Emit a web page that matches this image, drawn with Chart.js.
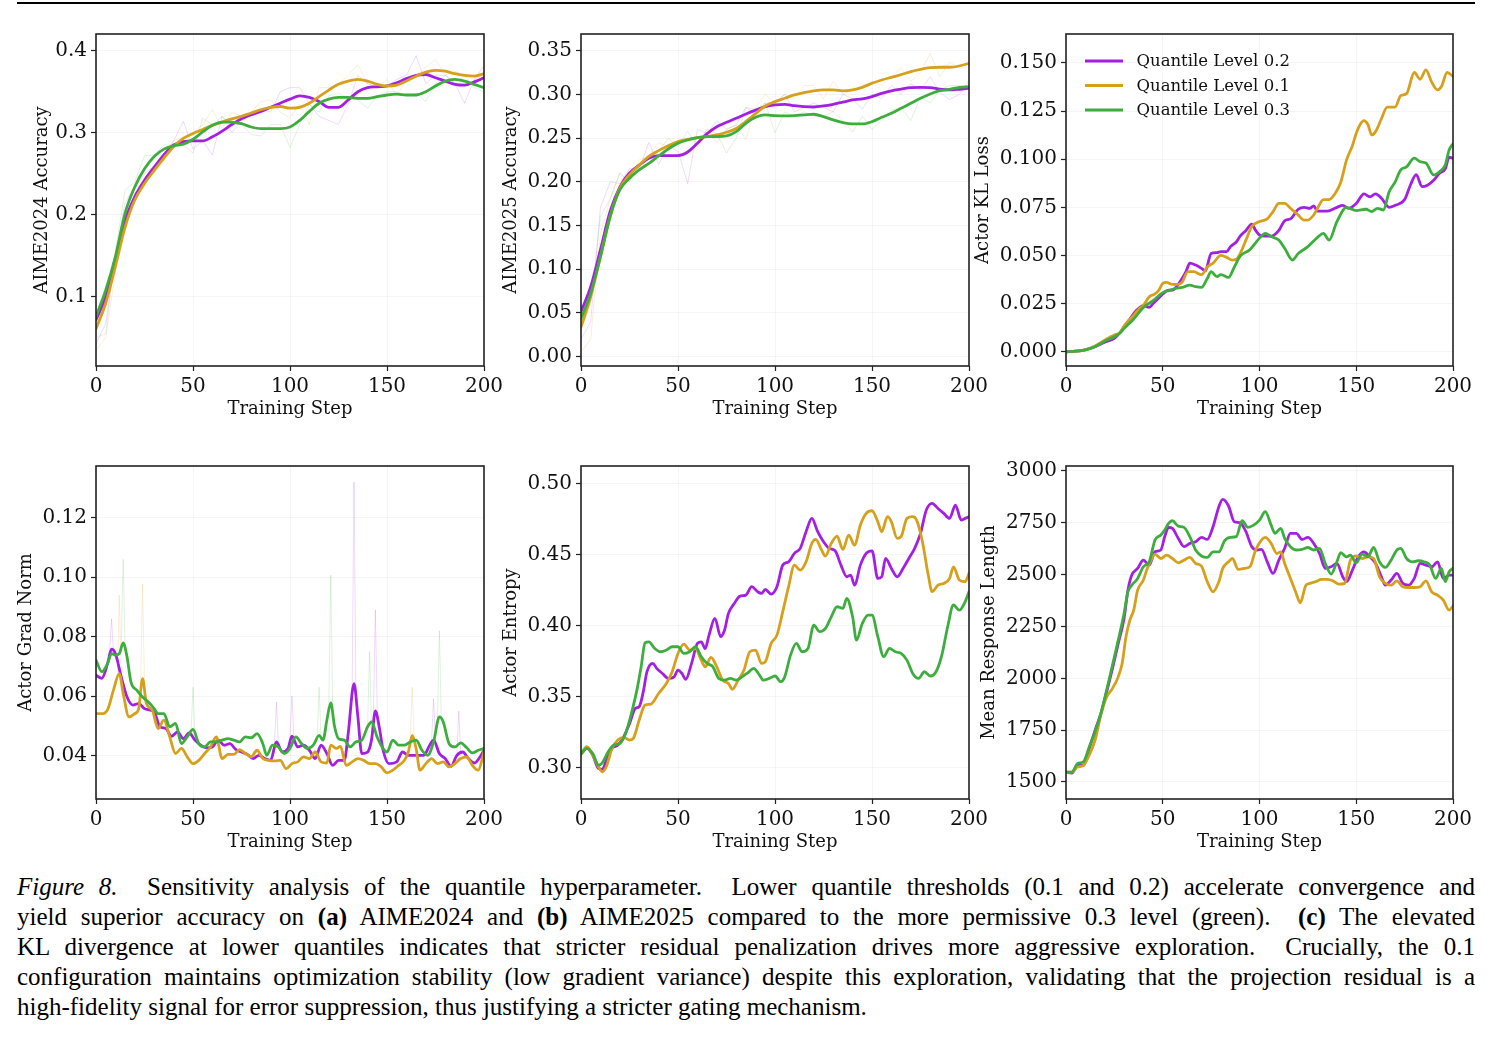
<!DOCTYPE html>
<html>
<head>
<meta charset="utf-8">
<script src="https://cdn.jsdelivr.net/npm/chart.js@4"></script>
<style>
  body { margin: 0; background: #fff; width: 1493px; height: 1037px; position: relative; overflow: hidden; }
  canvas { position: absolute; }
  #rule { position: absolute; left: 17px; top: 2px; width: 1458px; height: 2px; background: #000; }
  #caption { position: absolute; left: 17px; top: 872px; width: 1458px; font-family: "Liberation Serif", serif; font-size: 25px; line-height: 30px; color: #000; }
  #caption div { text-align: justify; text-align-last: justify; }
  #caption div.last { text-align-last: left; }
</style>
</head>
<body>
<div id="rule"></div>
<canvas id="c1" width="514" height="412" style="left:0px;top:18px"></canvas>
<canvas id="c2" width="514" height="412" style="left:485px;top:18px"></canvas>
<canvas id="c3" width="513" height="412" style="left:970px;top:18px"></canvas>
<canvas id="c4" width="514" height="413" style="left:0px;top:450px"></canvas>
<canvas id="c5" width="514" height="413" style="left:485px;top:450px"></canvas>
<canvas id="c6" width="513" height="413" style="left:970px;top:450px"></canvas>
<div id="caption">
  <div><i>Figure 8.</i>&nbsp; Sensitivity analysis of the quantile hyperparameter.&nbsp; Lower quantile thresholds (0.1 and 0.2) accelerate convergence and</div>
  <div>yield superior accuracy on <b>(a)</b> AIME2024 and <b>(b)</b> AIME2025 compared to the more permissive 0.3 level (green).&nbsp; <b>(c)</b> The elevated</div>
  <div>KL divergence at lower quantiles indicates that stricter residual penalization drives more aggressive exploration.&nbsp; Crucially, the 0.1</div>
  <div>configuration maintains optimization stability (low gradient variance) despite this exploration, validating that the projection residual is a</div>
  <div class="last">high-fidelity signal for error suppression, thus justifying a stricter gating mechanism.</div>
</div>
<script>
// series: Quantile Level 0.2 (purple), 0.1 (gold), 0.3 (green)
const seriesLabels = ['Quantile Level 0.2', 'Quantile Level 0.1', 'Quantile Level 0.3'];
const seriesColors = ['#a31fe3', '#d6a01c', '#3dae3d'];

const xTicks = [0, 50, 100, 150, 200];
const aime24Ticks = [0.1, 0.2, 0.3, 0.4];
const aime25Ticks = [0, 0.05, 0.10, 0.15, 0.20, 0.25, 0.30, 0.35];
const klTicks = [0, 0.025, 0.05, 0.075, 0.1, 0.125, 0.15];
const gradTicks = [0.04, 0.06, 0.08, 0.10, 0.12];
const entTicks = [0.30, 0.35, 0.40, 0.45, 0.50];
const lenTicks = [1500, 1750, 2000, 2250, 2500, 2750, 3000];

// (a) AIME2024 / (b) AIME2025, evaluated every 5 steps
const evalSteps = [0,5,10,15,20,25,30,35,40,45,50,55,60,65,70,75,80,85,90,95,100,105,110,115,120,125,130,135,140,145,150,155,160,165,170,175,180,185,190,195,200];
const aime24_q02 = [0.072,0.100,0.145,0.193,0.222,0.242,0.258,0.273,0.285,0.289,0.290,0.290,0.295,0.302,0.310,0.317,0.322,0.326,0.331,0.336,0.341,0.345,0.343,0.338,0.331,0.331,0.340,0.350,0.355,0.356,0.357,0.361,0.366,0.370,0.371,0.367,0.363,0.359,0.358,0.362,0.367];
const aime24_q01 = [0.061,0.092,0.137,0.185,0.218,0.238,0.254,0.269,0.283,0.293,0.299,0.304,0.309,0.313,0.317,0.320,0.324,0.328,0.331,0.332,0.330,0.331,0.336,0.344,0.352,0.359,0.363,0.365,0.363,0.359,0.357,0.358,0.363,0.369,0.374,0.376,0.375,0.372,0.370,0.369,0.372];
const aime24_q03 = [0.076,0.108,0.149,0.202,0.234,0.256,0.271,0.280,0.284,0.286,0.292,0.301,0.309,0.313,0.313,0.311,0.307,0.305,0.305,0.305,0.307,0.315,0.326,0.336,0.341,0.343,0.343,0.342,0.342,0.344,0.346,0.347,0.346,0.346,0.350,0.357,0.363,0.365,0.363,0.359,0.355];
const aime24Raw_q02 = [0.043,0.067,0.150,0.215,0.235,0.250,0.260,0.275,0.290,0.314,0.280,0.290,0.273,0.320,0.300,0.315,0.322,0.330,0.325,0.350,0.355,0.355,0.335,0.320,0.315,0.310,0.335,0.370,0.360,0.355,0.357,0.365,0.370,0.394,0.360,0.370,0.370,0.360,0.336,0.365,0.382];
const aime24Raw_q01 = [0.035,0.050,0.130,0.190,0.225,0.240,0.250,0.265,0.290,0.295,0.300,0.310,0.328,0.305,0.325,0.320,0.325,0.338,0.340,0.325,0.318,0.335,0.310,0.355,0.355,0.360,0.370,0.383,0.360,0.355,0.365,0.344,0.365,0.370,0.380,0.389,0.370,0.375,0.370,0.365,0.370];
const aime24Raw_q03 = [0.050,0.055,0.155,0.230,0.240,0.272,0.273,0.285,0.285,0.285,0.275,0.318,0.310,0.320,0.310,0.310,0.298,0.296,0.310,0.310,0.282,0.310,0.335,0.325,0.345,0.348,0.342,0.340,0.330,0.345,0.350,0.350,0.345,0.348,0.338,0.360,0.370,0.360,0.370,0.355,0.350];

const aime25_q02 = [0.0515,0.080,0.122,0.166,0.194,0.210,0.219,0.227,0.230,0.230,0.230,0.234,0.244,0.255,0.263,0.268,0.2726,0.2775,0.282,0.286,0.288,0.2886,0.287,0.286,0.2855,0.2867,0.2886,0.291,0.2936,0.2947,0.2974,0.301,0.304,0.306,0.3077,0.308,0.3077,0.3058,0.305,0.3058,0.307];
const aime25_q01 = [0.034,0.0686,0.114,0.160,0.1925,0.208,0.219,0.229,0.2356,0.2413,0.246,0.2486,0.2505,0.2516,0.2535,0.2566,0.261,0.269,0.278,0.2867,0.2917,0.2955,0.2993,0.302,0.304,0.305,0.305,0.304,0.305,0.308,0.3126,0.3164,0.3195,0.3225,0.326,0.3286,0.3305,0.331,0.331,0.3324,0.3355];
const aime25_q03 = [0.0438,0.0724,0.114,0.160,0.1906,0.204,0.2135,0.221,0.2295,0.2375,0.244,0.2478,0.2505,0.2516,0.2516,0.2524,0.2573,0.2669,0.2737,0.2764,0.2756,0.2753,0.2756,0.2764,0.2772,0.2745,0.2707,0.2676,0.2661,0.2661,0.2688,0.2737,0.2783,0.284,0.2897,0.2955,0.3004,0.3042,0.3058,0.308,0.3088];
const aime25Raw_q02 = [0.020,0.040,0.170,0.200,0.198,0.215,0.215,0.245,0.220,0.240,0.235,0.198,0.260,0.255,0.270,0.260,0.265,0.285,0.278,0.290,0.290,0.300,0.280,0.285,0.290,0.285,0.280,0.300,0.295,0.283,0.300,0.295,0.310,0.300,0.312,0.305,0.320,0.302,0.294,0.300,0.316];
const aime25Raw_q01 = [0.005,0.020,0.140,0.180,0.210,0.200,0.225,0.230,0.245,0.240,0.245,0.250,0.245,0.260,0.245,0.260,0.265,0.248,0.285,0.300,0.290,0.300,0.295,0.310,0.310,0.295,0.315,0.300,0.305,0.310,0.315,0.310,0.320,0.330,0.315,0.325,0.347,0.320,0.337,0.330,0.330];
const aime25Raw_q03 = [0.030,0.060,0.160,0.180,0.210,0.200,0.220,0.220,0.235,0.250,0.240,0.258,0.240,0.260,0.255,0.233,0.250,0.285,0.283,0.290,0.256,0.280,0.275,0.280,0.275,0.275,0.280,0.270,0.257,0.275,0.260,0.270,0.282,0.285,0.270,0.297,0.290,0.305,0.310,0.310,0.305];

// (c) Actor KL loss (smoothed)
const klSteps_q02 = [0,5,10,15,20,25,28,30,33,36,40,43,45,48,50,53,55,58,60,62,64,67,70,72,75,78,80,83,85,88,90,93,96,98,100,103,106,110,113,116,120,123,126,128,130,135,140,143,146,150,154,157,160,163,167,170,175,178,181,184,187,190,193,196,198,200];
const kl_q02 = [0,0.0003,0.001,0.0026,0.005,0.007,0.010,0.013,0.017,0.021,0.024,0.023,0.025,0.028,0.030,0.032,0.032,0.035,0.038,0.0416,0.046,0.045,0.0433,0.042,0.051,0.0515,0.052,0.052,0.0546,0.057,0.060,0.063,0.0663,0.063,0.0606,0.060,0.060,0.063,0.068,0.069,0.074,0.075,0.0745,0.0757,0.073,0.073,0.075,0.076,0.0745,0.077,0.082,0.0805,0.082,0.0797,0.075,0.076,0.079,0.0866,0.092,0.0857,0.0866,0.089,0.0927,0.095,0.101,0.1005];
const klSteps_q01 = [0,5,10,15,20,23,25,28,30,35,38,40,43,46,48,50,52,55,58,60,63,66,70,73,76,80,83,86,88,90,93,96,100,104,107,110,113,116,120,123,125,128,130,133,136,139,142,145,148,150,152,154,156,158,160,163,166,170,173,176,180,183,186,189,192,194,197,200];
const kl_q01 = [0,0.0003,0.001,0.003,0.006,0.0078,0.0087,0.010,0.0133,0.019,0.0225,0.024,0.0286,0.030,0.032,0.0355,0.036,0.035,0.035,0.036,0.0416,0.0416,0.040,0.044,0.046,0.050,0.049,0.0476,0.048,0.051,0.058,0.065,0.0676,0.069,0.0728,0.077,0.077,0.0745,0.071,0.0684,0.0684,0.071,0.0745,0.079,0.079,0.082,0.088,0.0996,0.107,0.1135,0.118,0.120,0.118,0.1126,0.1143,0.121,0.127,0.127,0.133,0.134,0.145,0.1415,0.1464,0.140,0.136,0.1377,0.145,0.143];
const klSteps_q03 = [0,5,10,15,20,25,28,30,35,40,45,50,53,57,60,64,67,70,73,75,78,80,84,87,90,95,100,103,106,110,113,117,120,125,130,133,136,140,145,150,155,158,161,164,167,170,173,176,180,183,186,190,193,196,198,200];
const kl_q03 = [0,0.0003,0.001,0.0026,0.0055,0.0078,0.0099,0.012,0.017,0.023,0.0265,0.0307,0.0317,0.033,0.0334,0.0346,0.0338,0.0334,0.038,0.0416,0.039,0.040,0.0386,0.044,0.0497,0.053,0.059,0.0615,0.0598,0.058,0.0537,0.0476,0.051,0.0546,0.0594,0.0615,0.058,0.0676,0.075,0.0733,0.074,0.0728,0.0745,0.0736,0.083,0.088,0.0944,0.096,0.1005,0.0987,0.098,0.0918,0.0935,0.097,0.1048,0.108];

// Actor grad norm (smoothed) and the visible raw spikes
const gradSteps_q02 = [0,3,6,8,10,13,16,19,22,25,28,30,33,36,39,42,45,48,51,54,57,60,63,66,69,72,75,78,81,84,87,90,93,96,99,101,104,107,110,113,116,119,122,125,128,130,133,135,137,140,142,144,146,148,151,155,158,161,165,169,172,174,177,180,183,186,189,192,195,198,200];
const grad_q02 = [0.067,0.066,0.071,0.0758,0.0743,0.0665,0.0597,0.057,0.0575,0.0558,0.0553,0.0547,0.0497,0.0491,0.0465,0.048,0.0457,0.0476,0.0452,0.0435,0.0426,0.0429,0.0452,0.0435,0.044,0.0421,0.0412,0.0404,0.039,0.0401,0.039,0.0384,0.0446,0.0412,0.0424,0.0465,0.0429,0.0435,0.0418,0.039,0.0435,0.0407,0.0367,0.0384,0.0384,0.0474,0.0642,0.053,0.0407,0.0412,0.0452,0.055,0.0496,0.0418,0.0373,0.0379,0.0412,0.0401,0.0401,0.0401,0.0435,0.0452,0.0407,0.039,0.0364,0.0401,0.0412,0.039,0.0375,0.0396,0.0418];
const gradSteps_q01 = [0,3,6,9,12,14,17,20,22,24,26,29,32,35,38,41,44,47,50,53,56,59,62,65,68,71,74,77,80,83,86,89,92,95,98,101,104,107,110,113,116,119,121,124,126,129,132,135,138,141,144,147,150,153,156,159,161,163,165,167,170,173,176,179,182,185,188,191,194,197,200];
const grad_q01 = [0.0541,0.0541,0.0555,0.062,0.0676,0.0609,0.053,0.0541,0.0558,0.0659,0.0575,0.0553,0.0491,0.0519,0.0463,0.0407,0.0424,0.0396,0.0373,0.0384,0.0407,0.0429,0.0463,0.039,0.0404,0.0404,0.042,0.0407,0.0396,0.0418,0.039,0.0384,0.0382,0.0384,0.0356,0.0373,0.0379,0.0396,0.039,0.0412,0.0379,0.0375,0.0435,0.0424,0.0431,0.0367,0.0379,0.039,0.0384,0.0373,0.0373,0.0362,0.0342,0.0351,0.0367,0.0384,0.0412,0.0468,0.0424,0.0351,0.0373,0.039,0.0373,0.0379,0.0362,0.0373,0.039,0.0396,0.0367,0.0351,0.0412];
const gradSteps_q03 = [0,3,6,8,10,12,14,16,18,21,24,27,30,32,35,38,41,44,47,50,53,56,59,62,65,68,71,74,77,80,83,86,88,91,94,97,100,103,106,109,112,115,117,119,121,123,125,128,131,134,137,140,142,145,148,150,153,156,159,162,165,168,171,174,177,179,182,185,188,191,194,197,200];
const grad_q03 = [0.0721,0.0682,0.071,0.0743,0.0738,0.0743,0.0779,0.0732,0.0648,0.062,0.0597,0.058,0.0558,0.0541,0.0541,0.0497,0.0508,0.044,0.0463,0.0488,0.044,0.0429,0.0446,0.0446,0.0452,0.0457,0.0452,0.0446,0.0463,0.046,0.0474,0.044,0.0401,0.0435,0.0429,0.0407,0.0424,0.0463,0.044,0.0424,0.0435,0.0468,0.0452,0.0519,0.0577,0.0497,0.0457,0.0452,0.0429,0.0446,0.0452,0.0497,0.0513,0.0461,0.0424,0.0412,0.0452,0.0435,0.0435,0.0446,0.0452,0.0418,0.0401,0.0446,0.053,0.0513,0.044,0.0429,0.0443,0.0427,0.0409,0.0418,0.0424];
const gradSpikeSteps_q02 = [8, 93, 101, 133, 144, 174, 187];
const gradSpikeTop_q02 = [0.086, 0.058, 0.060, 0.132, 0.089, 0.059, 0.055];
const gradSpikeBase_q02 = [0.075, 0.044, 0.046, 0.060, 0.054, 0.045, 0.040];
const gradSpikeSteps_q01 = [12, 24, 163];
const gradSpikeTop_q01 = [0.094, 0.0977, 0.063];
const gradSpikeBase_q01 = [0.066, 0.064, 0.046];
const gradSpikeSteps_q03 = [14, 50, 115, 121, 141, 177];
const gradSpikeTop_q03 = [0.106, 0.063, 0.063, 0.1007, 0.075, 0.082];
const gradSpikeBase_q03 = [0.077, 0.048, 0.046, 0.057, 0.050, 0.052];

// Actor entropy (smoothed)
const entSteps_q02 = [0,3,6,9,11,13,16,19,22,25,28,30,32,34,37,39,42,45,48,50,52,54,57,60,62,64,66,69,72,74,76,79,82,85,88,91,93,95,98,101,104,107,110,113,116,119,122,125,128,131,134,137,139,141,144,147,150,153,155,157,160,163,166,169,172,175,178,181,184,187,190,193,196,198,200];
const ent_q02 = [0.310,0.3136,0.309,0.2995,0.2988,0.305,0.3136,0.316,0.3218,0.331,0.3418,0.343,0.3528,0.3676,0.3735,0.370,0.3664,0.3629,0.364,0.3688,0.3664,0.3622,0.3735,0.3876,0.3887,0.384,0.3934,0.4052,0.3923,0.397,0.4087,0.4157,0.4209,0.4216,0.4275,0.424,0.4228,0.4256,0.4223,0.4275,0.4427,0.445,0.451,0.4545,0.4662,0.4756,0.4662,0.4592,0.4545,0.4528,0.4427,0.4345,0.4357,0.4286,0.4427,0.451,0.4528,0.4333,0.4345,0.4474,0.4404,0.4345,0.4404,0.4474,0.4545,0.465,0.4815,0.4862,0.4826,0.4791,0.4756,0.485,0.4744,0.4756,0.4768];
const entSteps_q01 = [0,3,6,9,11,13,16,19,22,25,27,30,33,36,40,44,47,50,53,56,59,62,64,67,70,73,76,78,81,84,87,90,93,95,98,101,104,107,110,113,116,119,121,124,126,129,132,135,138,141,144,147,150,153,155,158,160,163,165,168,171,173,176,179,181,184,187,190,192,195,198,200];
const ent_q01 = [0.310,0.3148,0.309,0.3007,0.2972,0.3007,0.3136,0.3195,0.3214,0.3195,0.3207,0.3336,0.3441,0.3448,0.3523,0.3594,0.3676,0.3805,0.3871,0.3829,0.384,0.3758,0.3711,0.3777,0.3711,0.3617,0.3594,0.3552,0.3617,0.3688,0.3817,0.3829,0.3735,0.3746,0.3876,0.3934,0.4099,0.4275,0.4427,0.4392,0.445,0.458,0.4608,0.4533,0.4491,0.458,0.4631,0.4538,0.4638,0.4568,0.4709,0.4791,0.481,0.4732,0.4662,0.4768,0.4732,0.4615,0.4627,0.4756,0.4768,0.4744,0.4592,0.4357,0.424,0.4286,0.4298,0.4333,0.4415,0.4322,0.431,0.4369];
const entSteps_q03 = [0,3,6,9,11,14,17,20,23,26,29,31,33,35,38,41,44,47,50,53,56,59,62,65,68,71,74,77,80,83,86,89,92,94,97,100,103,105,108,111,114,117,120,123,126,129,132,135,137,140,142,145,148,150,153,156,159,162,165,168,171,174,177,180,183,186,189,192,195,198,200];
const ent_q03 = [0.3096,0.3136,0.3101,0.3019,0.3035,0.3113,0.316,0.3171,0.3242,0.3383,0.3559,0.3711,0.388,0.3887,0.384,0.3817,0.3829,0.3852,0.3852,0.3805,0.3817,0.3852,0.3782,0.3735,0.3711,0.3629,0.3617,0.3629,0.3617,0.364,0.3669,0.370,0.3653,0.3617,0.3629,0.3646,0.3606,0.364,0.3793,0.3876,0.3817,0.384,0.4005,0.3958,0.3981,0.4063,0.4134,0.4122,0.4192,0.4063,0.3899,0.4016,0.4075,0.4075,0.3923,0.3782,0.384,0.3817,0.3805,0.3758,0.3664,0.3629,0.3676,0.3646,0.3676,0.3793,0.3993,0.4146,0.411,0.4169,0.424];

// Mean response length (smoothed)
const lenSteps_q02 = [0,3,6,9,12,15,18,21,24,27,30,32,34,37,40,43,46,49,51,53,55,58,61,64,67,70,73,76,79,81,84,87,90,93,96,99,101,104,107,110,113,116,119,122,125,128,131,134,137,140,143,145,148,151,154,157,160,163,165,168,171,174,177,180,183,186,189,192,195,198,200];
const len_q02 = [1548,1543,1580,1580,1661,1749,1830,1935,2047,2168,2289,2425,2498,2530,2570,2546,2610,2619,2683,2728,2723,2675,2635,2651,2659,2680,2670,2731,2828,2863,2831,2755,2750,2707,2635,2619,2622,2562,2506,2570,2627,2699,2699,2670,2680,2651,2602,2530,2538,2554,2490,2466,2522,2586,2610,2586,2554,2490,2449,2474,2506,2458,2449,2482,2554,2546,2538,2562,2482,2498,2498];
const lenSteps_q01 = [0,3,6,9,12,15,18,21,24,27,29,31,33,35,37,40,42,44,46,49,52,55,58,61,64,67,70,73,76,79,81,84,86,89,92,95,98,101,103,106,109,111,113,116,119,121,124,126,129,132,135,138,141,144,147,150,153,156,159,162,165,168,171,174,177,180,183,186,189,192,195,198,200];
const len_q01 = [1548,1548,1572,1580,1629,1701,1822,1910,1951,2007,2071,2200,2281,2329,2425,2474,2530,2570,2599,2578,2594,2578,2557,2570,2583,2554,2541,2466,2417,2466,2530,2562,2578,2525,2530,2538,2619,2667,2680,2651,2602,2610,2554,2482,2409,2364,2449,2458,2466,2477,2477,2470,2454,2458,2570,2590,2578,2586,2578,2490,2458,2449,2470,2442,2438,2438,2442,2470,2417,2401,2377,2329,2348];
const lenSteps_q03 = [0,3,6,9,12,15,18,21,24,27,30,32,34,37,40,43,46,49,51,53,55,58,61,64,67,70,73,76,79,82,85,88,91,94,97,100,103,106,108,111,113,116,119,122,125,128,131,134,137,140,142,145,147,150,153,156,159,162,165,168,171,173,176,179,182,185,188,191,194,196,198,200];
const len_q03 = [1548,1548,1589,1597,1669,1741,1830,1943,2063,2184,2313,2417,2449,2482,2538,2562,2667,2691,2715,2747,2760,2734,2728,2683,2619,2590,2583,2610,2610,2664,2680,2683,2760,2728,2739,2763,2804,2739,2699,2723,2675,2635,2619,2622,2631,2619,2627,2554,2503,2562,2606,2586,2594,2557,2599,2586,2631,2562,2535,2570,2619,2627,2578,2562,2567,2562,2546,2482,2530,2466,2514,2530];

const pts = (xs, ys) => xs.map((x, i) => ({x: x, y: ys[i]}));
function spikes(steps, tops, bases) {
  const out = [];
  steps.forEach((s, i) => {
    out.push({x: s - 1, y: bases[i]}, {x: s, y: tops[i]}, {x: s + 1, y: bases[i]}, {x: s + 1.5, y: null});
  });
  return out;
}

const serif = 'DejaVu Serif';

const frame = {
  id: 'frame',
  afterDatasetsDraw(chart) {
    const a = chart.chartArea, ctx = chart.ctx;
    ctx.save();
    ctx.strokeStyle = '#222';
    ctx.lineWidth = 1.6;
    ctx.strokeRect(a.left, a.top, a.right - a.left, a.bottom - a.top);
    ctx.restore();
  }
};

// legend drawn inside the plot area, upper left, no frame
const insideLegend = {
  id: 'insideLegend',
  afterDraw(chart) {
    const a = chart.chartArea, ctx = chart.ctx;
    const items = chart.data.datasets.filter(d => d.label);
    items.sort((p, q) => p.legendIndex - q.legendIndex);
    ctx.save();
    ctx.font = '16.5px "' + serif + '"';
    ctx.textBaseline = 'middle';
    items.forEach((d, i) => {
      const y = a.top + 27 + i * 24.5;
      ctx.strokeStyle = d.borderColor;
      ctx.lineWidth = 2.8;
      ctx.beginPath();
      ctx.moveTo(a.left + 19, y);
      ctx.lineTo(a.left + 57, y);
      ctx.stroke();
      ctx.fillStyle = '#111';
      ctx.fillText(d.label, a.left + 70.5, y + 1);
    });
    ctx.restore();
  }
};

function panel(id, o) {
  const datasets = [];
  (o.raw || []).forEach((r, i) => datasets.push({
    data: r, borderColor: seriesColors[i] + '2a', borderWidth: 1, order: 10, spanGaps: false, tension: 0
  }));
  o.lines.forEach((l, i) => datasets.push({
    label: seriesLabels[i], legendIndex: i, data: l, borderColor: seriesColors[i],
    borderWidth: 2.8, order: 3 - i, cubicInterpolationMode: 'monotone'
  }));
  const tickFont = {family: serif, size: 20};
  const titleFont = {family: serif, size: 18};
  const grid = {color: 'rgba(0,0,0,0.05)', lineWidth: 0.8, tickColor: '#222', tickLength: 5, tickWidth: 1.2};
  new Chart(document.getElementById(id), {
    type: 'line',
    data: {datasets: datasets},
    options: {
      responsive: false,
      animation: false,
      devicePixelRatio: 1,
      layout: {padding: {left: 0, top: 16, right: 30, bottom: 0}},
      elements: {point: {radius: 0}, line: {borderCapStyle: 'round', borderJoinStyle: 'round'}},
      plugins: {legend: {display: false}, tooltip: {enabled: false}},
      scales: {
        x: {
          type: 'linear', min: 0, max: 200,
          afterFit: s => { s.height = 64; },
          afterBuildTicks: s => { s.ticks = xTicks.map(v => ({value: v})); },
          ticks: {font: tickFont, color: '#111', padding: 4, maxRotation: 0, autoSkip: false},
          grid: grid,
          border: {display: false},
          title: {display: true, text: 'Training Step', font: titleFont, color: '#111', padding: {top: 0, bottom: 9.5}}
        },
        y: {
          type: 'linear', min: o.yMin, max: o.yMax,
          afterFit: s => { s.width = 96; },
          afterBuildTicks: s => { s.ticks = o.yTicks.map(v => ({value: v})); },
          ticks: {font: tickFont, color: '#111', padding: 4, autoSkip: false, callback: v => v.toFixed(o.dec)},
          grid: grid,
          border: {display: false},
          title: {display: true, text: o.yTitle, font: titleFont, color: '#111', padding: {top: o.titlePad, bottom: 0}}
        }
      }
    },
    plugins: o.legend ? [frame, insideLegend] : [frame]
  });
}

panel('c1', {
  yMin: 0.0155, yMax: 0.4204, yTicks: aime24Ticks, dec: 1, yTitle: 'AIME2024 Accuracy', titlePad: 32,
  lines: [pts(evalSteps, aime24_q02), pts(evalSteps, aime24_q01), pts(evalSteps, aime24_q03)],
  raw: [pts(evalSteps, aime24Raw_q02), pts(evalSteps, aime24Raw_q01), pts(evalSteps, aime24Raw_q03)]
});
panel('c2', {
  yMin: -0.0107, yMax: 0.369, yTicks: aime25Ticks, dec: 2, yTitle: 'AIME2025 Accuracy', titlePad: 16,
  lines: [pts(evalSteps, aime25_q02), pts(evalSteps, aime25_q01), pts(evalSteps, aime25_q03)],
  raw: [pts(evalSteps, aime25Raw_q02), pts(evalSteps, aime25Raw_q01), pts(evalSteps, aime25Raw_q03)]
});
panel('c3', {
  yMin: -0.0074, yMax: 0.165, yTicks: klTicks, dec: 3, yTitle: 'Actor KL Loss', titlePad: 2.5, legend: true,
  lines: [pts(klSteps_q02, kl_q02), pts(klSteps_q01, kl_q01), pts(klSteps_q03, kl_q03)]
});
panel('c4', {
  yMin: 0.0254, yMax: 0.1374, yTicks: gradTicks, dec: 2, yTitle: 'Actor Grad Norm', titlePad: 16,
  lines: [pts(gradSteps_q02, grad_q02), pts(gradSteps_q01, grad_q01), pts(gradSteps_q03, grad_q03)],
  raw: [spikes(gradSpikeSteps_q02, gradSpikeTop_q02, gradSpikeBase_q02),
        spikes(gradSpikeSteps_q01, gradSpikeTop_q01, gradSpikeBase_q01),
        spikes(gradSpikeSteps_q03, gradSpikeTop_q03, gradSpikeBase_q03)]
});
panel('c5', {
  yMin: 0.278, yMax: 0.5125, yTicks: entTicks, dec: 2, yTitle: 'Actor Entropy', titlePad: 16,
  lines: [pts(entSteps_q02, ent_q02), pts(entSteps_q01, ent_q01), pts(entSteps_q03, ent_q03)]
});
panel('c6', {
  yMin: 1418, yMax: 3024, yTicks: lenTicks, dec: 0, yTitle: 'Mean Response Length', titlePad: 9,
  lines: [pts(lenSteps_q02, len_q02), pts(lenSteps_q01, len_q01), pts(lenSteps_q03, len_q03)]
});
</script>
</body>
</html>
